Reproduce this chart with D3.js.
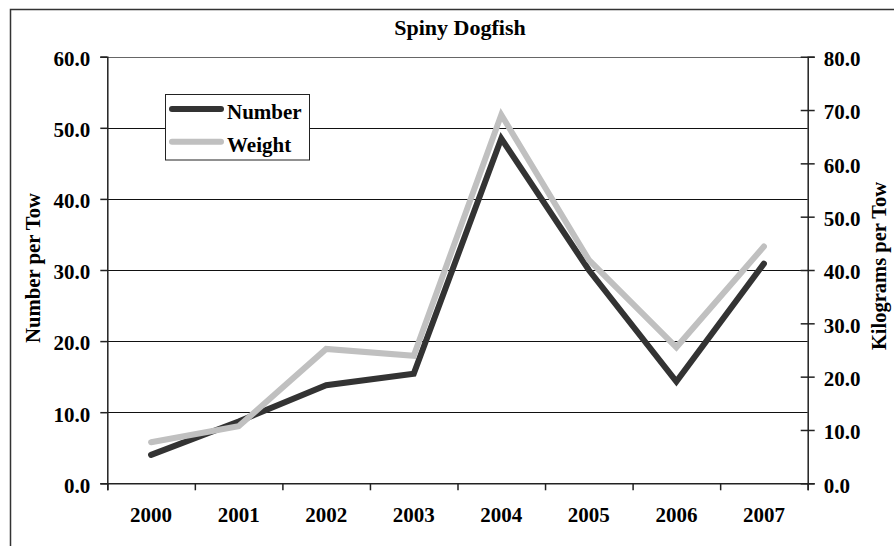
<!DOCTYPE html>
<html>
<head>
<meta charset="utf-8">
<script src="https://cdn.jsdelivr.net/npm/d3@7"></script>
<style>
  html, body { margin: 0; padding: 0; background: #fff; }
  svg { display: block; }
  text { font-family: "Liberation Serif", "Times New Roman", serif; font-weight: bold; fill: #000; }
</style>
</head>
<body>
<script>
const categories = ["2000", "2001", "2002", "2003", "2004", "2005", "2006", "2007"];
const numberPerTow = [4.0, 8.7, 13.8, 15.4, 48.5, 30.0, 14.3, 30.9];
const kgPerTow = [7.7, 10.7, 25.2, 23.9, 69.1, 41.9, 25.5, 44.4];
const leftTicks = [0, 10, 20, 30, 40, 50, 60];
const rightTicks = [0, 10, 20, 30, 40, 50, 60, 70, 80];
const seriesNames = ["Number", "Weight"];
const seriesColors = ["#333333", "#c0c0c0"];

const W = 894, H = 546;
const plot = { left: 107.3, right: 807.7, top: 56.7, bottom: 483.3 };
const FS = 21;

const svg = d3.select("body").append("svg").attr("width", W).attr("height", H);

// outer chart border (clipped at right/bottom like the reference)
svg.append("rect").attr("x", 10.5).attr("y", 9.5).attr("width", 1000).attr("height", 1000)
  .attr("fill", "#fff").attr("stroke", "#333").attr("stroke-width", 1.5);

const x = d3.scaleBand().domain(categories).range([plot.left, plot.right]).padding(0);
const xEdge = d3.scaleLinear().domain([0, categories.length]).range([plot.left, plot.right]);
const yL = d3.scaleLinear().domain([0, 60]).range([plot.bottom, plot.top]);
const yR = d3.scaleLinear().domain([0, 80]).range([plot.bottom, plot.top]);
const crisp = v => Math.round(v) + 0.5;

// gridlines
svg.append("g").selectAll("line").data(leftTicks.filter(d => d > 0)).join("line")
  .attr("x1", plot.left).attr("x2", plot.right)
  .attr("y1", d => crisp(yL(d))).attr("y2", d => crisp(yL(d)))
  .attr("stroke", d => d === 60 ? "#666" : "#111").attr("stroke-width", 1);

// left axis
const gL = svg.append("g").attr("transform", `translate(${plot.left},0)`)
  .call(d3.axisLeft(yL).tickValues(leftTicks).tickFormat(d3.format(".1f")).tickSize(7).tickPadding(10));
gL.select(".domain").attr("stroke", "#222").attr("stroke-width", 1.5);
gL.selectAll(".tick line").attr("stroke", "#222").attr("stroke-width", 1.5);
gL.selectAll(".tick text").attr("font-size", FS).attr("dy", "0.42em")
  .style("font-family", '"Liberation Serif", serif').style("font-weight", "bold").attr("fill", "#000");

// right axis (crossing ticks)
const gR = svg.append("g").attr("transform", `translate(${plot.right},0)`)
  .call(d3.axisRight(yR).tickValues(rightTicks).tickFormat(d3.format(".1f")).tickSize(7).tickPadding(9));
gR.select(".domain").attr("stroke", "#222").attr("stroke-width", 1.5);
gR.selectAll(".tick line").attr("x1", -7).attr("stroke", "#222").attr("stroke-width", 1.5);
gR.selectAll(".tick text").attr("font-size", FS).attr("dy", "0.42em")
  .style("font-family", '"Liberation Serif", serif').style("font-weight", "bold").attr("fill", "#000");

// bottom axis: tick marks at category boundaries
const gB = svg.append("g").attr("transform", `translate(0,${plot.bottom})`)
  .call(d3.axisBottom(xEdge).tickValues(d3.range(0, categories.length + 1)).tickFormat("").tickSize(7));
gB.select(".domain").attr("stroke", "#222").attr("stroke-width", 1.5);
gB.selectAll(".tick line").attr("stroke", "#222").attr("stroke-width", 1.5);
// category labels
const gB2 = svg.append("g").attr("transform", `translate(0,${plot.bottom})`)
  .call(d3.axisBottom(x).tickSize(0).tickPadding(24));
gB2.select(".domain").remove();
gB2.selectAll(".tick text").attr("font-size", FS)
  .style("font-family", '"Liberation Serif", serif').style("font-weight", "bold").attr("fill", "#000");

// lines
const cx = d => x(d) + x.bandwidth() / 2;
const lineL = d3.line().x((d, i) => cx(categories[i])).y(d => yL(d));
const lineR = d3.line().x((d, i) => cx(categories[i])).y(d => yR(d));
svg.append("path").datum(numberPerTow).attr("d", lineL)
  .attr("fill", "none").attr("stroke", seriesColors[0]).attr("stroke-width", 6)
  .attr("stroke-linejoin", "miter").attr("stroke-linecap", "round");
svg.append("path").datum(kgPerTow).attr("d", lineR)
  .attr("fill", "none").attr("stroke", seriesColors[1]).attr("stroke-width", 6)
  .attr("stroke-linejoin", "miter").attr("stroke-linecap", "round");

// title
svg.append("text").attr("x", 460).attr("y", 35).attr("text-anchor", "middle")
  .attr("font-size", 22).text("Spiny Dogfish");

// axis titles
svg.append("text").attr("transform", `translate(40,268) rotate(-90)`).attr("text-anchor", "middle")
  .attr("font-size", 20.7).text("Number per Tow");
svg.append("text").attr("transform", `translate(886,266) rotate(-90)`).attr("text-anchor", "middle")
  .attr("font-size", 20.5).text("Kilograms per Tow");

// legend
const lg = svg.append("g");
lg.append("rect").attr("x", 165.5).attr("y", 94.5).attr("width", 144).attr("height", 65.5)
  .attr("fill", "#fff").attr("stroke", "#222").attr("stroke-width", 1);
seriesNames.forEach((name, i) => {
  const yy = 109 + i * 32.7;
  lg.append("line").attr("x1", 172).attr("x2", 221).attr("y1", yy).attr("y2", yy)
    .attr("stroke", seriesColors[i]).attr("stroke-width", 6).attr("stroke-linecap", "round");
  lg.append("text").attr("x", 227).attr("y", yy + 10).attr("font-size", FS).text(name);
});
</script>
</body>
</html>
